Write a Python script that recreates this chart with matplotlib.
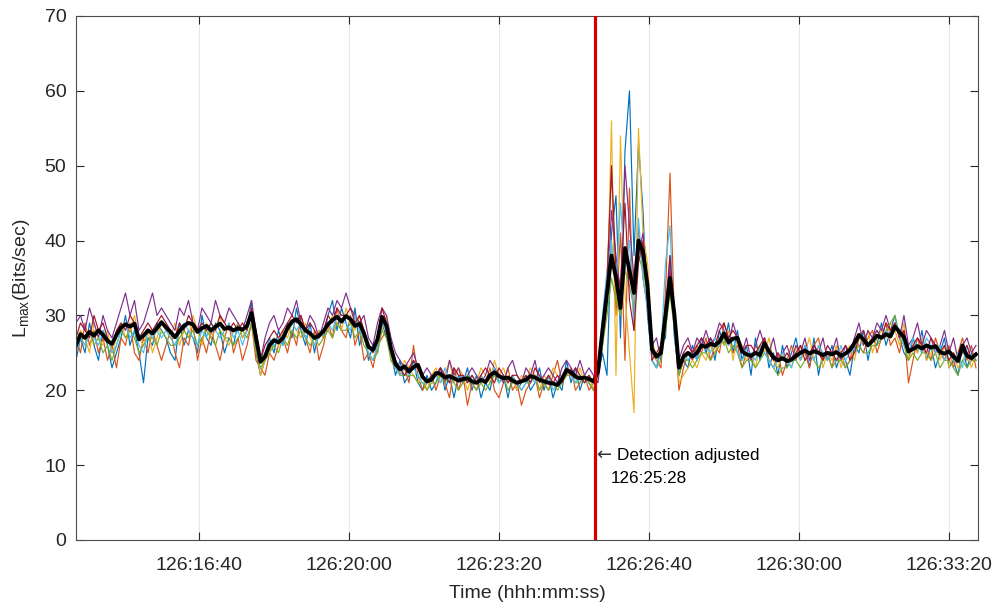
import numpy as np
import matplotlib
matplotlib.use('Agg')
import matplotlib.pyplot as plt
from matplotlib.ticker import FuncFormatter, MultipleLocator

plt.rcParams['font.family'] = ['Liberation Sans', 'DejaVu Sans']
plt.rcParams['mathtext.fontset'] = 'custom'
plt.rcParams['mathtext.rm'] = 'Liberation Sans'

# sample times, seconds after 126:00:00
t_start = 836
t_step = 6
t_detect = 1528  # 126:25:28
day = 126

# per-receiver L_max traces (Bits/sec)
s_blue = [
    24,27,25,29,26,24,28,26,23,25, 27,30,26,28,25,21,27,26,29,28,
    27,25,24,29,26,28,27,25,30,27, 26,29,28,25,27,26,29,27,28,32,
    25,22,24,27,25,28,26,29,27,31, 28,26,29,25,28,27,30,32,28,31,
    29,27,31,26,28,24,26,25,29,27, 25,22,24,21,22,24,21,20,22,20,
    21,23,20,22,19,22,21,23,20,22, 19,21,20,23,21,22,19,22,20,21,
    22,20,21,23,20,22,19,21,20,24, 21,23,20,22,21,20,22,25,22,41,
    46,27,52,60,38,53,44,30,24,23, 26,27,38,27,22,24,23,26,24,27,
    25,27,24,28,26,29,25,28,24,26, 22,27,24,27,23,25,22,26,23,25,
    27,24,26,23,27,22,25,24,26,23, 25,24,22,26,25,28,24,27,26,29,
    26,28,30,27,25,24,27,25,28,24, 26,23,25,27,23,24,22,26,23,25,
    24]
s_orange = [
    27,25,29,26,28,25,27,24,26,23, 27,26,29,25,24,27,25,28,26,24,
    26,28,25,23,27,26,29,24,27,25, 28,26,24,27,29,25,27,24,26,29,
    24,23,22,25,24,26,27,25,28,26, 30,27,25,28,24,26,29,27,31,28,
    27,30,26,28,24,25,23,26,27,28, 25,24,22,23,21,26,22,20,21,22,
    20,22,21,19,23,20,22,18,21,20, 22,21,23,20,19,21,23,20,21,18,
    20,21,22,19,21,20,22,24,21,22, 23,20,21,22,20,21,23,27,35,50,
    30,41,24,47,28,42,35,31,25,24, 23,33,49,29,20,23,25,24,26,25,
    27,24,26,25,29,27,25,26,23,25, 24,26,25,27,24,23,25,22,24,26,
    24,26,25,23,26,27,24,25,23,26, 25,23,24,27,26,25,27,28,25,27,
    29,26,27,25,28,21,24,27,25,26, 24,27,25,24,26,23,25,27,24,26,
    23]
s_yellow = [
    26,28,27,25,29,27,26,28,25,27, 29,27,28,30,27,26,28,25,27,29,
    28,27,29,26,28,27,30,28,26,29, 27,28,30,27,26,28,29,27,28,31,
    26,22,24,25,27,26,28,27,29,28, 27,29,27,26,28,27,28,30,29,28,
    31,29,28,30,27,25,24,26,28,30, 24,23,22,24,23,22,21,22,20,22,
    23,21,22,24,21,23,22,20,22,21, 23,22,21,24,22,23,21,22,20,22,
    21,23,22,20,22,21,23,22,21,23, 22,21,23,21,22,20,22,29,31,56,
    22,54,33,25,17,55,41,37,27,24, 26,28,34,31,21,22,23,24,23,25,
    24,26,25,27,26,28,24,27,26,24, 25,23,26,25,27,24,23,25,24,23,
    26,24,25,27,24,26,23,25,24,26, 23,25,26,24,27,26,28,25,27,28,
    27,29,28,26,29,24,26,25,27,24, 25,26,24,26,23,25,23,24,25,23,
    25]
s_purple = [
    29,30,28,31,29,27,30,28,27,29, 31,33,30,32,28,29,31,33,30,31,
    30,29,28,31,30,32,29,28,31,30, 29,32,30,29,31,30,29,28,30,32,
    28,24,27,29,30,28,29,31,30,32, 29,28,30,29,27,29,31,30,32,31,
    33,31,30,29,30,27,26,29,31,30, 27,25,24,23,24,25,23,22,23,22,
    22,23,21,24,22,23,21,22,23,22, 21,22,24,23,22,21,23,24,22,21,
    23,22,24,21,22,23,22,21,23,24, 23,22,24,22,23,22,21,26,32,44,
    38,33,50,42,35,38,41,33,26,27, 24,30,36,31,24,26,27,25,27,26,
    28,26,27,29,28,26,29,27,25,27, 24,26,28,26,25,27,24,25,26,24,
    26,25,27,24,26,25,27,24,25,27, 24,26,25,27,29,26,28,27,29,28,
    30,28,29,27,30,26,27,29,26,28, 27,25,26,28,25,27,24,26,27,25,
    26]
s_green = [
    26,27,26,28,26,27,25,26,24,26, 28,27,28,27,25,26,27,27,26,28,
    27,26,26,27,28,27,28,26,27,28, 27,26,28,27,27,26,27,28,27,29,
    25,23,24,25,26,25,27,26,28,27, 28,27,26,27,26,27,28,27,29,28,
    28,29,27,28,26,25,24,25,28,27, 24,23,22,22,22,22,21,21,20,21,
    21,22,21,22,21,20,21,22,21,20, 21,20,21,22,21,22,20,21,21,20,
    21,21,22,20,21,20,21,20,21,22, 22,21,21,22,21,20,22,26,30,35,
    32,30,36,34,31,38,36,33,24,23, 24,28,33,28,22,24,24,23,24,25,
    25,24,25,26,27,25,26,25,23,24, 24,23,24,25,24,23,22,23,23,24,
    24,23,24,25,24,23,24,25,23,24, 24,23,24,25,26,25,25,26,26,27,
    28,29,30,27,26,24,25,24,25,25, 24,25,23,24,24,23,22,24,23,24,
    24]
s_lightblue = [
    25,27,26,28,27,26,28,27,25,26, 28,29,27,28,26,25,28,27,28,27,
    28,27,26,28,29,28,27,26,28,27, 29,28,27,28,29,27,28,26,28,30,
    26,24,25,27,26,27,26,28,29,28, 29,27,28,26,27,28,29,28,30,29,
    29,28,30,28,27,25,24,26,29,28, 25,23,22,23,22,23,22,21,21,22,
    22,21,23,21,22,21,22,21,22,21, 22,21,22,23,21,22,21,22,21,20,
    21,22,21,22,21,22,20,21,22,23, 22,21,22,21,22,21,23,30,36,40,
    34,45,36,40,28,43,35,31,24,23, 25,37,42,27,23,25,24,25,24,26,
    26,25,27,26,28,26,27,25,24,25, 25,24,26,25,24,23,24,25,24,23,
    25,24,26,25,24,26,25,24,25,24, 26,24,25,26,27,28,26,27,28,27,
    28,27,29,28,26,25,27,26,25,27, 26,25,26,24,25,24,25,23,26,24,
    25]
s_darkred = [
    27,29,28,27,30,28,29,27,26,28, 29,28,30,29,27,28,29,28,29,30,
    29,28,27,29,28,30,29,28,29,28, 29,28,30,29,28,29,28,29,28,31,
    28,24,26,27,28,27,28,29,30,29, 30,28,29,28,27,28,30,29,31,30,
    30,31,29,30,28,26,25,27,31,29, 26,24,23,22,23,24,23,22,21,22,
    22,23,22,21,23,22,22,21,22,21, 22,23,22,21,23,22,21,22,22,21,
    22,21,23,22,21,22,21,22,21,23, 22,23,22,21,22,21,23,28,34,50,
    36,34,45,32,28,37,40,35,24,25, 26,31,38,30,23,25,26,25,26,27,
    26,27,26,28,29,27,28,27,25,26, 26,25,26,27,25,24,25,24,25,24,
    25,26,24,25,26,25,24,26,25,24, 25,26,24,25,27,28,26,27,28,27,
    29,28,29,27,28,25,26,27,26,25, 27,26,25,26,24,25,24,25,26,24,
    25]

# ensemble mean
s_mean = [
    26.0,27.5,27.0,27.8,27.3,28.0,27.4,26.6,26.2,27.4,
    28.4,28.8,28.5,28.9,26.8,27.3,28.0,27.6,28.3,29.1,
    28.4,27.8,27.1,27.9,28.6,29.0,28.8,27.8,28.3,28.6,
    28.0,28.5,28.9,28.2,28.4,28.0,28.3,28.1,28.6,30.3,
    27.0,23.8,24.5,26.0,26.7,26.4,27.0,28.3,29.2,29.5,
    28.8,28.0,27.6,27.0,27.3,27.9,28.8,29.4,29.8,29.2,
    29.9,29.5,28.6,28.9,27.6,25.8,25.4,26.8,29.8,28.6,
    25.6,23.5,22.8,23.2,22.5,23.1,23.4,21.8,21.2,21.4,
    22.3,22.2,21.7,21.9,21.6,21.3,21.5,21.6,21.2,21.0,
    21.4,21.1,22.0,22.4,21.9,21.6,21.7,21.3,21.0,21.2,
    21.4,21.9,21.7,21.4,21.2,21.0,20.9,20.7,21.5,22.7,
    22.4,21.8,21.6,21.7,21.5,21.2,22.5,28.0,33.0,38.0,
    35.0,31.0,39.0,36.0,33.0,40.0,38.5,34.0,25.5,24.5,
    25.0,30.0,35.0,30.0,23.0,24.5,25.0,24.5,25.0,26.0,
    25.8,26.2,26.0,26.5,27.6,26.4,26.9,27.0,25.2,24.8,
    24.6,25.0,24.7,26.3,25.2,24.4,24.0,24.3,23.9,24.1,
    24.6,25.0,25.3,24.9,25.2,25.0,24.7,25.0,24.8,25.1,
    24.6,24.9,25.4,26.3,27.4,26.8,26.0,26.6,27.3,27.0,
    27.5,27.2,28.5,27.8,27.1,25.2,25.5,25.9,25.6,26.0,
    25.7,25.9,25.1,24.9,25.2,24.5,23.9,26.0,24.6,24.3,
    24.8]

series = [s_blue, s_orange, s_yellow, s_purple, s_green, s_lightblue, s_darkred]
colors = ['#0072BD', '#D95319', '#EDB120', '#7E2F8E', '#77AC30', '#4DBEEE', '#A2142F']

t = t_start + t_step * np.arange(len(s_mean))

fig = plt.figure(figsize=(9.95, 6.03), dpi=100)
ax = fig.add_axes([76/995, 63/603, 902/995, 524/603])

for s, c in zip(series, colors):
    ax.plot(t, s, color=c, lw=0.85)
ax.plot(t, s_mean, color='k', lw=2.8)

ax.axvline(t_detect, color='#D00000', lw=2.3, zorder=5)
ax.text(t_detect + 1, 11.35, '\u2190', family=['DejaVu Sans'], fontsize=13,
        color='#333333', va='center', ha='left')
ax.text(t_detect + 29, 11.35, 'Detection adjusted', fontsize=12.3, va='center', ha='left')
ax.text(t_detect + 21, 8.15, '126:25:28', fontsize=12.3, va='center', ha='left')

ax.set_xlim(836, 2038.7)
ax.set_ylim(0, 70)
ax.xaxis.set_major_locator(MultipleLocator(200))
ax.yaxis.set_major_locator(MultipleLocator(10))
ax.xaxis.set_major_formatter(FuncFormatter(
    lambda s, p: '%d:%02d:%02d' % (day, int(s) // 60, int(s) % 60)))
ax.grid(axis='x', color='#e8e8e8', lw=0.8)
ax.set_axisbelow(True)

for sp in ax.spines.values():
    sp.set_color('#4d4d4d')
    sp.set_linewidth(0.8)
ax.tick_params(direction='in', length=6, width=0.8, colors='#262626',
               labelsize=14, top=True, right=True, pad=7)
ax.tick_params(axis='x', pad=12)

ax.set_xlabel('Time (hhh:mm:ss)', fontsize=14, color='#262626', labelpad=8)
ax.set_ylabel(r'L$_{\mathregular{max}}$(Bits/sec)', fontsize=14, color='#262626', labelpad=9)

fig.savefig('out.png', dpi=100)
